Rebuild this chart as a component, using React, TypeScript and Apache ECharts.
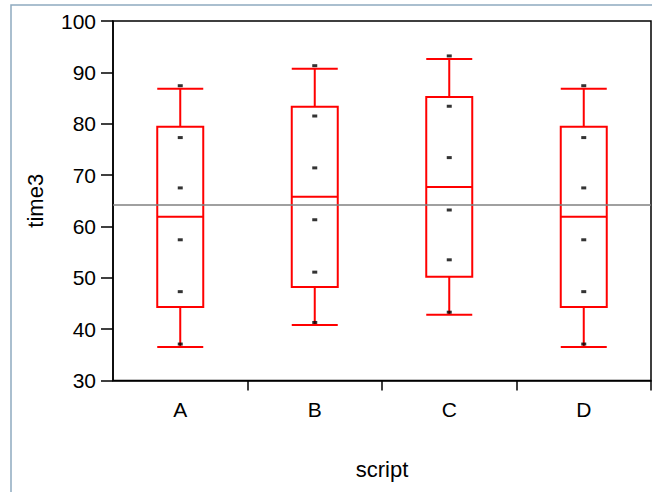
import React, { useEffect, useRef } from "react";
import * as echarts from "echarts";

const categories = ["A", "B", "C", "D"];
// [lower whisker, Q1, median, Q3, upper whisker]
const boxA = [36.5, 44.3, 61.9, 79.4, 86.8];
const boxB = [40.8, 48.2, 65.8, 83.3, 90.7];
const boxC = [42.8, 50.2, 67.7, 85.2, 92.6];
const boxD = [36.5, 44.3, 61.9, 79.4, 86.8];
const pointsA = [37.1, 47.3, 57.4, 67.5, 77.3, 87.4];
const pointsB = [41.3, 51.1, 61.3, 71.4, 81.5, 91.3];
const pointsC = [43.3, 53.5, 63.2, 73.4, 83.4, 93.2];
const pointsD = [37.1, 47.3, 57.4, 67.5, 77.3, 87.4];
const grandMean = 64.2;
const yTicks = { min: 30, max: 100, interval: 10 };

const FONT = "Liberation Sans, Arial, sans-serif";

export default function App() {
  const ref = useRef<HTMLDivElement>(null);
  useEffect(() => {
    document.body.style.margin = "0";
    const chart = echarts.init(ref.current!, null, { renderer: "svg" });
    const boxes = [boxA, boxB, boxC, boxD];
    const pts = [pointsA, pointsB, pointsC, pointsD];
    const scatterData: any[] = [];
    pts.forEach((arr, i) => arr.forEach((v) => scatterData.push([categories[i], v])));
    chart.setOption({
      animation: false,
      graphic: [
        {
          type: "rect",
          shape: { x: 11, y: 5, width: 660, height: 500 },
          style: { fill: "none", stroke: "#8fabc0", lineWidth: 1.5 },
          z: -10,
        },
      ],
      grid: {
        left: 113,
        top: 21,
        width: 538,
        height: 359.5,
        show: true,
        borderColor: "#000",
        borderWidth: 1.5,
        backgroundColor: "transparent",
      },
      xAxis: {
        type: "category",
        data: categories,
        boundaryGap: true,
        name: "script",
        nameLocation: "middle",
        nameGap: 78,
        nameTextStyle: { fontFamily: FONT, fontSize: 22, color: "#000" },
        axisLine: { lineStyle: { color: "#000", width: 1.5 } },
        axisTick: {
          show: true,
          length: 10,
          lineStyle: { color: "#000", width: 1.5 },
          interval: (index: number) => index !== 0,
        },
        axisLabel: { fontFamily: FONT, fontSize: 21, color: "#000", margin: 18 },
        splitLine: { show: false },
      },
      yAxis: {
        type: "value",
        min: yTicks.min,
        max: yTicks.max,
        interval: yTicks.interval,
        name: "time3",
        nameLocation: "middle",
        nameRotate: 90,
        nameGap: 67,
        nameTextStyle: { fontFamily: FONT, fontSize: 22, color: "#000" },
        axisLine: { show: true, lineStyle: { color: "#000", width: 1.5 } },
        axisTick: { show: true, inside: false, length: 12, lineStyle: { color: "#000", width: 1.5 } },
        axisLabel: { fontFamily: FONT, fontSize: 21, color: "#000", margin: 17 },
        splitLine: { show: false },
      },
      series: [
        {
          type: "boxplot",
          data: boxes,
          boxWidth: [46, 46],
          itemStyle: { color: "transparent", borderColor: "#ff0000", borderWidth: 2 },
          markLine: {
            silent: true,
            symbol: "none",
            label: { show: false },
            lineStyle: { color: "#808080", width: 1.5, type: "solid" },
            data: [{ yAxis: grandMean }],
          },
          z: 3,
        },
        {
          type: "scatter",
          data: scatterData,
          symbol: "rect",
          symbolSize: [5, 3],
          itemStyle: { color: "#000" },
          z: 4,
        },
      ],
    });
    return () => chart.dispose();
  }, []);
  return (
    <div
      ref={ref}
      style={{ position: "absolute", left: 0, top: 0, width: 652, height: 492 }}
    />
  );
}
